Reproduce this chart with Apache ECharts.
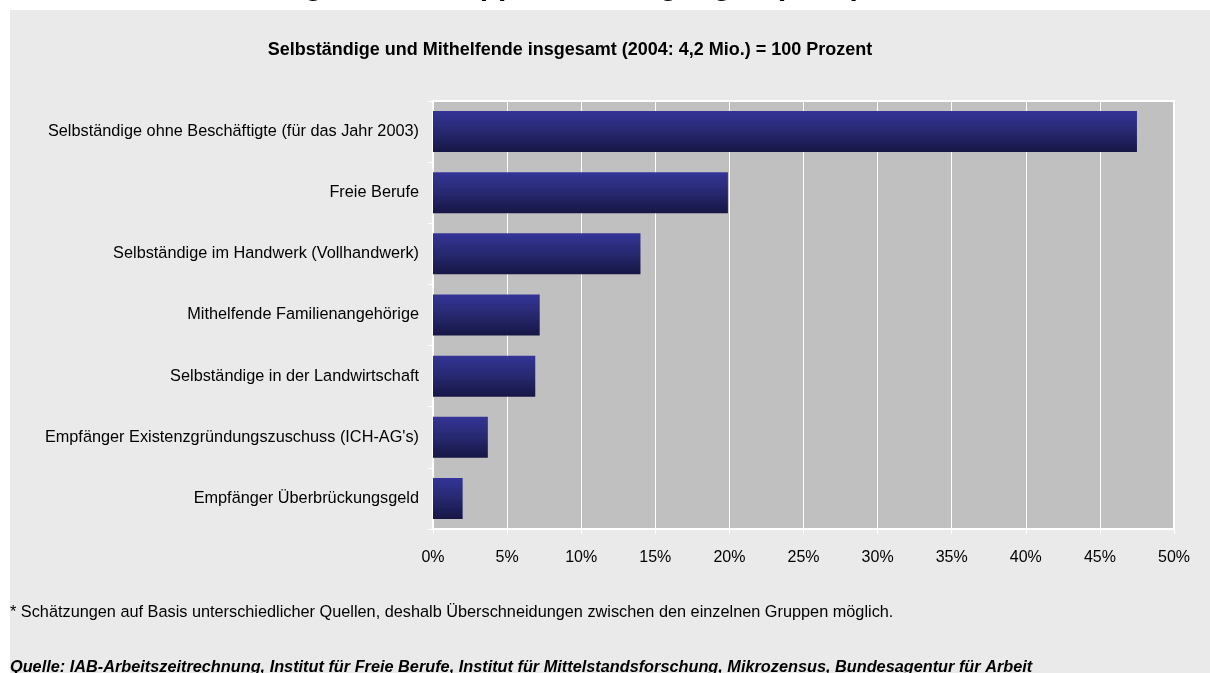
<!DOCTYPE html>
<html>
<head>
<meta charset="utf-8">
<script src="https://cdn.jsdelivr.net/npm/echarts@6/dist/echarts.min.js"></script>
<style>
html,body{margin:0;padding:0;background:#ffffff;}
#chart{width:1210px;height:673px;}
</style>
</head>
<body>
<div id="chart"></div>
<script>
const categories = [
  'Selbständige ohne Beschäftigte (für das Jahr 2003)',
  'Freie Berufe',
  'Selbständige im Handwerk (Vollhandwerk)',
  'Mithelfende Familienangehörige',
  'Selbständige in der Landwirtschaft',
  "Empfänger Existenzgründungszuschuss (ICH-AG's)",
  'Empfänger Überbrückungsgeld'
];
const values = [47.5, 19.9, 14.0, 7.2, 6.9, 3.7, 2.0];
const axisMin = 0;
const axisMax = 50;
const axisStep = 5;
const titleText = 'Selbständige nach Gruppen und Zugängen (2004)*';
const subtitleText = 'Selbständige und Mithelfende insgesamt (2004: 4,2 Mio.) = 100 Prozent';
const footnoteText = '* Schätzungen auf Basis unterschiedlicher Quellen, deshalb Überschneidungen zwischen den einzelnen Gruppen möglich.';
const sourceText = 'Quelle: IAB-Arbeitszeitrechnung, Institut für Freie Berufe, Institut für Mittelstandsforschung, Mikrozensus, Bundesagentur für Arbeit';

const FONT = '"Liberation Sans", Arial, Helvetica, sans-serif';
const chart = echarts.init(document.getElementById('chart'), null, {renderer: 'canvas'});

chart.setOption({
  backgroundColor: '#ffffff',
  animation: false,
  graphic: [
    {
      type: 'rect', z: -10, silent: true,
      shape: {x: 10, y: 10, width: 1200, height: 663},
      style: {fill: '#eaeaea'}
    },
    {
      type: 'text', silent: true, x: 873, y: -13.5,
      style: {
        text: titleText, fill: '#000000',
        font: 'bold 30px ' + FONT,
        align: 'right', textAlign: 'right',
        verticalAlign: 'middle', textVerticalAlign: 'middle'
      }
    },
    {
      type: 'text', silent: true, x: 570, y: 50,
      style: {
        text: subtitleText, fill: '#000000',
        font: 'bold 18px ' + FONT,
        align: 'center', textAlign: 'center',
        verticalAlign: 'middle', textVerticalAlign: 'middle'
      }
    },
    {
      type: 'text', silent: true, x: 10, y: 613,
      style: {
        text: footnoteText, fill: '#000000',
        font: '16.3px ' + FONT,
        align: 'left', textAlign: 'left',
        verticalAlign: 'middle', textVerticalAlign: 'middle'
      }
    },
    {
      type: 'text', silent: true, x: 10, y: 668,
      style: {
        text: sourceText, fill: '#000000',
        font: 'italic bold 16.3px ' + FONT,
        align: 'left', textAlign: 'left',
        verticalAlign: 'middle', textVerticalAlign: 'middle'
      }
    }
  ],
  grid: {
    left: 433, top: 101, width: 741, height: 428,
    show: true, backgroundColor: '#c0c0c0',
    borderColor: '#ffffff', borderWidth: 2,
    containLabel: false
  },
  xAxis: {
    type: 'value', min: axisMin, max: axisMax, interval: axisStep,
    axisLine: {show: true, lineStyle: {color: '#ffffff', width: 2}},
    axisTick: {show: true, length: 5, lineStyle: {color: '#ffffff', width: 1}},
    splitLine: {show: true, lineStyle: {color: '#ffffff', width: 1}},
    axisLabel: {
      margin: 21, color: '#000000', fontSize: 16, fontFamily: FONT,
      formatter: function (v) { return v + '%'; }
    }
  },
  yAxis: {
    type: 'category', data: categories, inverse: true,
    axisLine: {show: true, lineStyle: {color: '#ffffff', width: 2}},
    axisTick: {show: true, length: 5, lineStyle: {color: '#ffffff', width: 1}},
    splitLine: {show: false},
    axisLabel: {margin: 14, color: '#000000', fontSize: 16.3, fontFamily: FONT}
  },
  series: [{
    type: 'bar',
    data: values,
    barWidth: '67%',
    itemStyle: {
      color: new echarts.graphic.LinearGradient(0, 0, 0, 1, [
        {offset: 0, color: '#343597'},
        {offset: 0.5, color: '#27286f'},
        {offset: 1, color: '#161645'}
      ])
    }
  }]
});
</script>
</body>
</html>
